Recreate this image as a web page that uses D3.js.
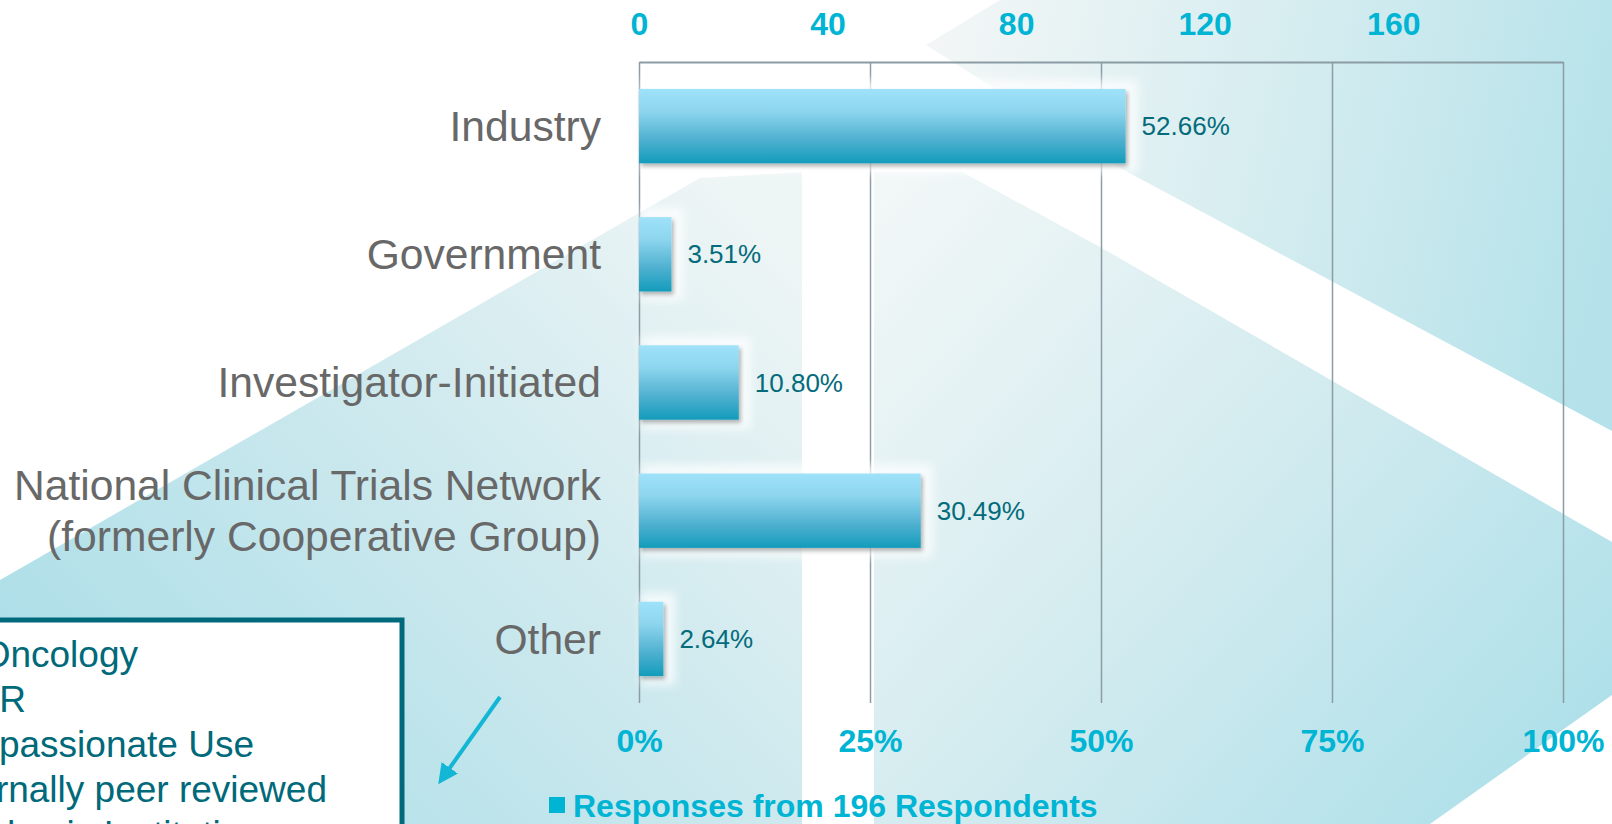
<!DOCTYPE html>
<html>
<head>
<meta charset="utf-8">
<script src="https://cdn.jsdelivr.net/npm/d3@7"></script>
<style>
  html, body { margin: 0; padding: 0; background: #fff; overflow: hidden; }
  svg { display: block; font-family: "Liberation Sans", Arial, sans-serif; }
</style>
</head>
<body>
<div id="chart"></div>
<script>
// chart values
var categories = ['Industry', 'Government', 'Investigator-Initiated', 'NCTN', 'Other'];
var categoryLines = [
  ['Industry'],
  ['Government'],
  ['Investigator-Initiated'],
  ['National Clinical Trials Network', '(formerly Cooperative Group)'],
  ['Other']
];
var shares = [52.66, 3.51, 10.80, 30.49, 2.64];
var respondents = 196;
var countTicks = [0, 40, 80, 120, 160];
var pctTicks = [0, 25, 50, 75, 100];
var legendLabel = 'Responses from 196 Respondents';
var noteLines = ['Radiation Oncology', 'IIR', 'Compassionate Use', 'Internally peer reviewed', 'Academic Institution'];

var W = 1612, H = 824;
var margin = {top: 62, left: 639, right: 49, bottom: 121};
var innerW = W - margin.left - margin.right;
var innerH = H - margin.top - margin.bottom;

var svg = d3.select('#chart').append('svg')
  .attr('width', W)
  .attr('height', H);

var defs = svg.append('defs');

function linGrad(id, x1, y1, x2, y2, stops) {
  var g = defs.append('linearGradient')
    .attr('id', id)
    .attr('gradientUnits', 'userSpaceOnUse')
    .attr('x1', x1).attr('y1', y1).attr('x2', x2).attr('y2', y2);
  stops.forEach(function (s) {
    g.append('stop').attr('offset', s[0]).attr('stop-color', s[1]);
  });
}

linGrad('bgLeft', 80, 820, 720, 180, [[0, '#a8dde7'], [0.55, '#cde9ee'], [1, '#eef5f5']]);
linGrad('bgMid', 880, 200, 1560, 820, [[0, '#f2f7f7'], [0.5, '#d2ebef'], [1, '#abdfe9']]);
linGrad('bgTop', 930, 40, 1612, 200, [[0, '#f3f6f6'], [0.5, '#d6edf0'], [1, '#b5e2ea']]);

var barGrad = defs.append('linearGradient')
  .attr('id', 'barGrad')
  .attr('x1', 0).attr('y1', 0).attr('x2', 0).attr('y2', 1);
[[0, '#9fe2fa'], [0.3, '#8dd5ee'], [0.7, '#4cafcf'], [1, '#139cbb']].forEach(function (s) {
  barGrad.append('stop').attr('offset', s[0]).attr('stop-color', s[1]);
});

var shadow = defs.append('filter').attr('id', 'shadow')
  .attr('x', '-10%').attr('y', '-20%').attr('width', '130%').attr('height', '150%');
shadow.append('feDropShadow')
  .attr('dx', 2).attr('dy', 3).attr('stdDeviation', 2)
  .attr('flood-color', '#000').attr('flood-opacity', 0.3);

var glow = defs.append('filter').attr('id', 'glow')
  .attr('x', '-20%').attr('y', '-50%').attr('width', '140%').attr('height', '200%');
glow.append('feGaussianBlur').attr('stdDeviation', 5);

// background shapes
var bg = svg.append('g');
bg.append('rect').attr('width', W).attr('height', H).attr('fill', '#fff');
bg.append('polygon')
  .attr('points', '0,580 700,178 802,172 802,824 0,824')
  .attr('fill', 'url(#bgLeft)');
bg.append('polygon')
  .attr('points', '874,172 962,172 1100,247 1612,542 1612,695 1430,824 874,824')
  .attr('fill', 'url(#bgMid)');
bg.append('polygon')
  .attr('points', '926,45 1000,0 1612,0 1612,431 1120,168')
  .attr('fill', 'url(#bgTop)');

// scales
var x = d3.scaleLinear().domain([0, 100]).range([margin.left, margin.left + innerW]);
var xCount = d3.scaleLinear().domain([0, respondents]).range([margin.left, margin.left + innerW]);
var y = d3.scaleBand().domain(categories)
  .range([margin.top, margin.top + innerH])
  .paddingInner(0.42).paddingOuter(0.21);

var teal = '#00b4d4';

// percent axis with gridlines
var bottomAxis = svg.append('g')
  .attr('transform', 'translate(0,' + (margin.top + innerH) + ')')
  .call(d3.axisBottom(x).tickValues(pctTicks).tickSize(-innerH).tickPadding(26)
    .tickFormat(function (d) { return d + '%'; }));
bottomAxis.select('.domain').remove();
bottomAxis.selectAll('line').attr('stroke', '#8a9ca4').attr('stroke-width', 1.5);
bottomAxis.selectAll('text')
  .attr('fill', teal).attr('font-size', 32).attr('font-weight', 'bold');

// count axis on top
var topAxis = svg.append('g')
  .attr('transform', 'translate(0,' + margin.top + ')')
  .call(d3.axisTop(xCount).tickValues(countTicks).tickSize(0).tickPadding(27));
topAxis.select('.domain').attr('stroke', '#8a9ca4').attr('stroke-width', 2);
topAxis.selectAll('text')
  .attr('fill', teal).attr('font-size', 32).attr('font-weight', 'bold');

// bars
var rows = categories.map(function (c, i) {
  return {cat: c, value: shares[i], lines: categoryLines[i]};
});

var barG = svg.append('g');
barG.selectAll('rect.glow')
  .data(rows).enter().append('rect')
  .attr('class', 'glow')
  .attr('x', x(0) + 2)
  .attr('y', function (d) { return y(d.cat) - 9; })
  .attr('width', function (d) { return x(d.value) - x(0) + 10; })
  .attr('height', y.bandwidth() + 18)
  .attr('fill', '#ffffff')
  .attr('opacity', 0.75)
  .attr('filter', 'url(#glow)');

barG.selectAll('rect.bar')
  .data(rows).enter().append('rect')
  .attr('class', 'bar')
  .attr('x', x(0))
  .attr('y', function (d) { return y(d.cat); })
  .attr('width', function (d) { return x(d.value) - x(0); })
  .attr('height', y.bandwidth())
  .attr('fill', 'url(#barGrad)')
  .attr('filter', 'url(#shadow)');

// value labels
svg.append('g').selectAll('text')
  .data(rows).enter().append('text')
  .attr('x', function (d) { return x(d.value) + 16; })
  .attr('y', function (d) { return y(d.cat) + y.bandwidth() / 2; })
  .attr('dy', '0.35em')
  .attr('font-size', 26)
  .attr('fill', '#036b7c')
  .text(function (d) { return d.value.toFixed(2) + '%'; });

// category labels
var catG = svg.append('g').selectAll('text')
  .data(rows).enter().append('text')
  .attr('text-anchor', 'end')
  .attr('font-size', 42.6)
  .attr('fill', '#686868');
catG.each(function (d) {
  var t = d3.select(this);
  var cy = y(d.cat) + y.bandwidth() / 2;
  var n = d.lines.length;
  d.lines.forEach(function (line, k) {
    t.append('tspan')
      .attr('x', 601)
      .attr('y', cy + (k - (n - 1) / 2) * 51)
      .attr('dy', '0.35em')
      .text(line);
  });
});

// note box (its left part runs off the slide, as in the original)
var note = svg.append('g');
note.append('rect')
  .attr('x', -10).attr('y', 620)
  .attr('width', 412).attr('height', 240)
  .attr('fill', '#fff')
  .attr('stroke', '#006a7c')
  .attr('stroke-width', 5);
var noteEnds = [138, 26, 254, 327, 262];
note.selectAll('text')
  .data(noteLines).enter().append('text')
  .attr('text-anchor', 'end')
  .attr('x', function (d, i) { return noteEnds[i]; })
  .attr('y', function (d, i) { return 667 + i * 45; })
  .attr('font-size', 37)
  .attr('fill', '#00697a')
  .text(function (d) { return d; });

// arrow
defs.append('marker')
  .attr('id', 'arrowHead')
  .attr('viewBox', '0 0 10 10')
  .attr('refX', 5).attr('refY', 5)
  .attr('markerWidth', 5).attr('markerHeight', 5)
  .attr('orient', 'auto')
  .append('path')
  .attr('d', 'M0,0L10,5L0,10z')
  .attr('fill', '#13b6d4');
svg.append('line')
  .attr('x1', 500).attr('y1', 697)
  .attr('x2', 444).attr('y2', 776)
  .attr('stroke', '#13b6d4')
  .attr('stroke-width', 4)
  .attr('marker-end', 'url(#arrowHead)');

// legend
var legend = svg.append('g');
legend.append('rect')
  .attr('x', 549).attr('y', 797)
  .attr('width', 16).attr('height', 16)
  .attr('fill', teal);
legend.append('text')
  .attr('x', 573).attr('y', 817)
  .attr('font-size', 32)
  .attr('font-weight', 'bold')
  .attr('fill', teal)
  .text(legendLabel);
</script>
</body>
</html>
